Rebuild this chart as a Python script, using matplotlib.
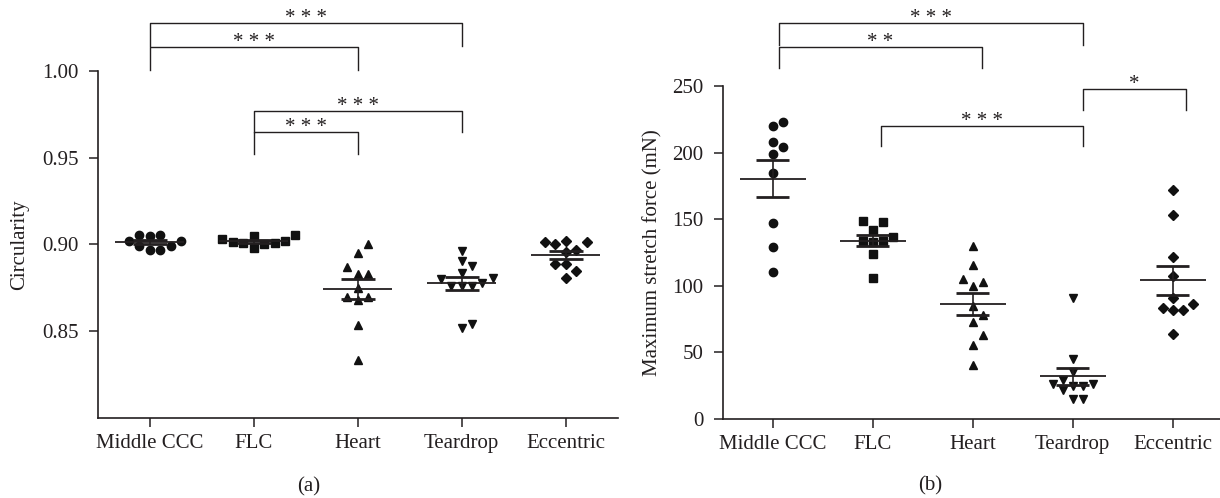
import matplotlib
matplotlib.use('Agg')
import matplotlib.pyplot as plt
import numpy as np

plt.rcParams['font.family'] = ['Liberation Serif', 'DejaVu Serif']

INK = '#231f20'

categories = ['Middle CCC', 'FLC', 'Heart', 'Teardrop', 'Eccentric']
markers = ['o', 's', '^', 'v', 'D']
marker_sizes = [6.0, 5.8, 6.2, 6.2, 4.8]

# ---- (a) Circularity ----
circ_middle = [0.9023, 0.9052, 0.9048, 0.9052, 0.9023, 0.8990, 0.8966, 0.8971, 0.8994]
circ_flc = [0.9034, 0.9013, 0.9057, 0.9048, 0.9006, 0.8981, 0.9000, 0.9010, 0.9019]
circ_heart = [0.9004, 0.8952, 0.8870, 0.8828, 0.8828, 0.8751, 0.8699, 0.8699, 0.8680, 0.8534, 0.8333]
circ_teardrop = [0.8962, 0.8904, 0.8875, 0.8837, 0.8808, 0.8799, 0.8776, 0.8764, 0.8764, 0.8764,
                 0.8521, 0.8540]
circ_eccentric = [0.9013, 0.9000, 0.9023, 0.9013, 0.8971, 0.8958, 0.8889, 0.8889, 0.8846, 0.8808]
circ_ticks = [0.85, 0.90, 0.95, 1.00]

# ---- (b) Maximum stretch force (mN) ----
force_middle = [223, 220, 208, 204, 199, 185, 147, 129, 110]
force_flc = [147.9, 148.9, 141.9, 136.8, 133.8, 133.1, 133.8, 124, 105.8]
force_heart = [129.8, 115.8, 104.8, 103, 99.7, 84.7, 77.9, 72.7, 62.7, 55.6, 40.9]
force_teardrop = [91, 45, 35, 29.6, 26, 26, 24.6, 24.6, 21.5, 15, 15]
force_eccentric = [171.7, 152.9, 121.8, 107, 90.5, 86.7, 83.5, 82.2, 81.7, 63.9]
force_ticks = [0, 50, 100, 150, 200, 250]

# significance comparisons: (group i, group j, label)
circ_sig = [(0, 3, '* * *'), (0, 2, '* * *'), (1, 3, '* * *'), (1, 2, '* * *')]
force_sig = [(0, 3, '* * *'), (0, 2, '* *'), (1, 3, '* * *'), (3, 4, '*')]

W, H = 1220, 498
fig = plt.figure(figsize=(W / 100, H / 100), dpi=100)


def px_box(x0, x1, ytop, ybot):
    return [x0 / W, (H - ybot) / H, (x1 - x0) / W, (ybot - ytop) / H]


axA = fig.add_axes(px_box(97.7, 617.7, 70.7, 418.3))
axB = fig.add_axes(px_box(722.7, 1222.7, 86.0, 419.0))


def style_axis(ax, ylim, yticks, yfmt):
    ax.set_xlim(-0.5, 4.5)
    ax.set_ylim(*ylim)
    ax.set_yticks(yticks)
    ax.set_yticklabels([yfmt.format(t) for t in yticks])
    ax.set_xticks(range(len(categories)))
    ax.set_xticklabels(categories)
    for s in ['top', 'right']:
        ax.spines[s].set_visible(False)
    for s in ['left', 'bottom']:
        ax.spines[s].set_color(INK)
        ax.spines[s].set_linewidth(1.2)
    ax.tick_params(axis='both', direction='out', length=6.8, width=1.1,
                   colors=INK, labelsize=15, labelcolor=INK)
    ax.tick_params(axis='y', pad=7)
    ax.tick_params(axis='x', pad=4.5)


style_axis(axA, (0.80, 1.00), circ_ticks, '{:.2f}')
style_axis(axB, (0, 250), force_ticks, '{:.0f}')


def swarm(ax, x0, values, step=0.1, d_px=10.0):
    trans = ax.transData
    placed = []
    xs = np.zeros(len(values))
    order = np.argsort(values, kind='stable')
    for i in order:
        y = values[i]
        for k in [0, 1, -1, 2, -2, 3, -3, 4, -4, 5, -5]:
            xd = x0 + k * step
            px, py = trans.transform((xd, y))
            if all((px - qx) ** 2 + (py - qy) ** 2 >= d_px ** 2 for qx, qy in placed):
                break
        placed.append((px, py))
        xs[i] = xd
    return xs


def draw_groups(ax, groups):
    for gi, vals in enumerate(groups):
        vals = np.asarray(vals, dtype=float)
        xs = swarm(ax, gi, vals)
        ax.plot(xs, vals, linestyle='none', marker=markers[gi], ms=marker_sizes[gi],
                color='#111111', mec='#111111', zorder=3, clip_on=False)
        m = vals.mean()
        sem = vals.std(ddof=1) / np.sqrt(len(vals))
        ax.hlines(m, gi - 0.33, gi + 0.33, color=INK, lw=1.3, zorder=4)
        ax.hlines([m - sem, m + sem], gi - 0.165, gi + 0.165, color=INK, lw=2.0, zorder=4)
        ax.vlines(gi, m - sem, m + sem, color=INK, lw=1.2, zorder=4)


draw_groups(axA, [circ_middle, circ_flc, circ_heart, circ_teardrop, circ_eccentric])
draw_groups(axB, [force_middle, force_flc, force_heart, force_teardrop, force_eccentric])


def bracket(ax, x1, x2, ytop, ybot, label):
    ax.plot([x1, x1, x2, x2], [ybot, ytop, ytop, ybot], color=INK, lw=1.0,
            clip_on=False, zorder=5)
    ax.text((x1 + x2) / 2, ytop, label, ha='center', va='baseline',
            fontsize=15, color=INK, clip_on=False)


# bracket levels (layout), in data units of each panel
circ_levels = [(1.0274, 1.0142), (1.0136, 1.0004), (0.9768, 0.9647), (0.9647, 0.9521)]
for (i, j, lab), (yt, yb) in zip(circ_sig, circ_levels):
    bracket(axA, i, j, yt, yb, lab)

force_levels = [(297.3, 280.8), (279.3, 263.5), (220.0, 205.0), (247.8, 232.0)]
force_shift = [0.06, 1.08, 2.09, 3.10, 4.13]
for (i, j, lab), (yt, yb) in zip(force_sig, force_levels):
    bracket(axB, force_shift[i], force_shift[j], yt, yb, lab)

fig.text(20 / W, 1 - 245 / H, 'Circularity', rotation=90, ha='center', va='center',
         fontsize=15, color=INK)
fig.text(653 / W, 1 - 253 / H, 'Maximum stretch force (mN)', rotation=90, ha='center',
         va='center', fontsize=15, color=INK)
fig.text(309 / W, 1 - 487 / H, '(a)', ha='center', va='center', fontsize=15, color=INK)
fig.text(930 / W, 1 - 486 / H, '(b)', ha='center', va='center', fontsize=15, color=INK)

fig.savefig('out.png', dpi=100)
